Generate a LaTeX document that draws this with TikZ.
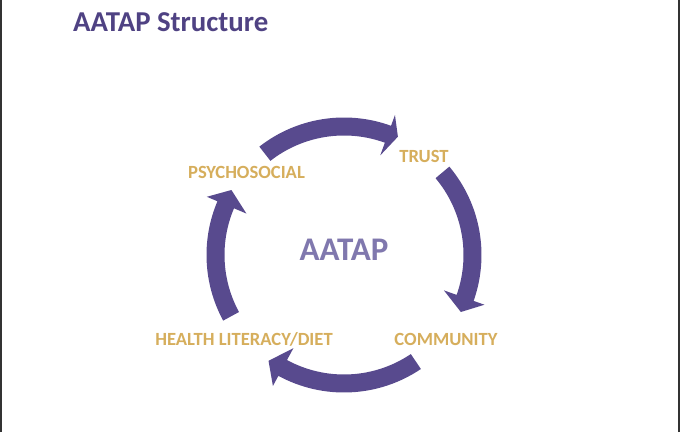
\documentclass[tikz,border=0pt]{standalone}
\usepackage{fontspec}
\setmainfont{Carlito}
\definecolor{arrowpurple}{HTML}{584A8E}
\definecolor{titlepurple}{HTML}{4F4283}
\definecolor{centerpurple}{HTML}{8078AE}
\definecolor{labelgold}{HTML}{D6AE5C}
\newcommand{\cyclearrow}[3]{%
  \fill[arrowpurple] (#1:137.5) arc[start angle=#1, end angle=#2, radius=137.5]
    -- (#2:149) -- (#3:130) -- (#2:106) -- (#2:119.5)
    arc[start angle=#2, end angle=#1, radius=119.5] -- cycle;}
\begin{document}
\begin{tikzpicture}[x=1pt,y=1pt,
  lbl/.style={anchor=base, inner sep=0, text=labelgold, font=\bfseries\fontsize{18.6}{20}\selectfont}]
\useasboundingbox (0,0) rectangle (680,432);
\fill[white] (0,0) rectangle (680,432);
\draw[line width=2pt, black!80] (1,0) -- (1,432);
\draw[line width=2pt, black!80] (679,0) -- (679,432);
\node[anchor=base west, inner sep=0, text=titlepurple, font=\bfseries\fontsize{28.8}{31}\selectfont] (title) at (73,400) {AATAP Structure};
\begin{scope}[shift={(344,177)}]
  \cyclearrow{128}{70}{65.5}
  \cyclearrow{40}{-19.5}{-26}
  \cyclearrow{-56}{-118.5}{-125.5}
  \cyclearrow{-151.5}{-203}{-210}
\end{scope}
\node[anchor=base, inner sep=0, text=centerpurple, font=\bfseries\fontsize{33}{35}\selectfont] (center) at (344,172) {AATAP};
\node[lbl] (psycho) at (246.5,254) {PSYCHOSOCIAL};
\node[lbl] (trust) at (424,270) {TRUST};
\node[lbl] (health) at (244,87) {HEALTH LITERACY/DIET};
\node[lbl] (community) at (446,87) {COMMUNITY};
\end{tikzpicture}
\end{document}
